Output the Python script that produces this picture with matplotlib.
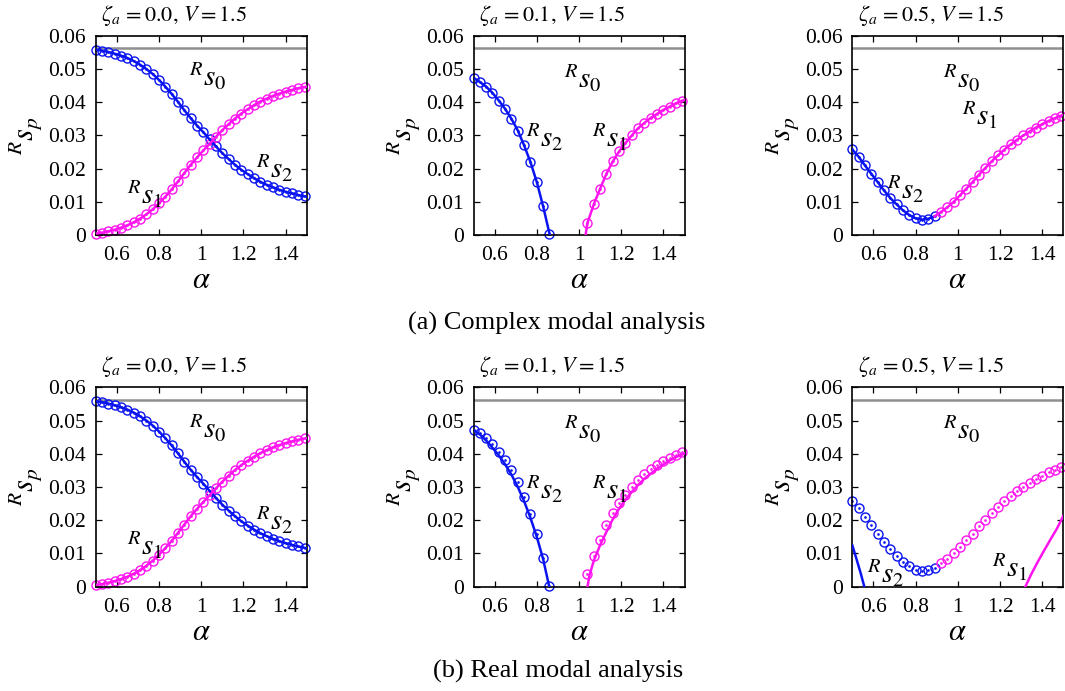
import matplotlib
matplotlib.use('Agg')
import matplotlib.pyplot as plt

plt.rcParams['font.family'] = ['Liberation Serif', 'DejaVu Serif']
plt.rcParams['mathtext.fontset'] = 'stix'

# ---------------- data ----------------
ALPHA = [0.50, 0.53, 0.56, 0.59, 0.62, 0.65, 0.68, 0.71, 0.74, 0.77,
         0.80, 0.83, 0.86, 0.89, 0.92, 0.95, 0.98, 1.01, 1.04, 1.07,
         1.10, 1.13, 1.16, 1.19, 1.22, 1.25, 1.28, 1.31, 1.34, 1.37,
         1.40, 1.43, 1.46, 1.49]

GRAY_LEVEL = 0.0563  # R s0

# zeta_a = 0.0 (circles; complex and real lines coincide)
Z00_BLUE = [0.0558, 0.0555, 0.0551, 0.0546, 0.0540, 0.0533, 0.0524, 0.0513, 0.0500, 0.0485,
            0.0467, 0.0447, 0.0425, 0.0401, 0.0376, 0.0352, 0.0330, 0.0310, 0.0288, 0.0267,
            0.0247, 0.0229, 0.0212, 0.0197, 0.0184, 0.0172, 0.0161, 0.0152, 0.0144, 0.0137,
            0.0131, 0.0126, 0.0121, 0.0117]
Z00_MAG = [0.0005, 0.0008, 0.0012, 0.0017, 0.0023, 0.0030, 0.0039, 0.0050, 0.0063, 0.0078,
           0.0096, 0.0116, 0.0138, 0.0162, 0.0187, 0.0212, 0.0234, 0.0255, 0.0275, 0.0296,
           0.0316, 0.0334, 0.0351, 0.0366, 0.0379, 0.0391, 0.0402, 0.0411, 0.0419, 0.0426,
           0.0432, 0.0437, 0.0442, 0.0446]
Z00_LINE_A = ALPHA + [1.50]
Z00_BLUE_LINE = Z00_BLUE + [0.0116]
Z00_MAG_LINE = Z00_MAG + [0.0447]

# zeta_a = 0.1 circles
Z01_BLUE_A = ALPHA[:13]
Z01_BLUE = [0.0473, 0.0461, 0.0447, 0.0428, 0.0405, 0.0380, 0.0350, 0.0315, 0.0270, 0.0220,
            0.0160, 0.0087, 0.0003]
Z01_MAG_A = ALPHA[18:]
Z01_MAG = [0.0037, 0.0093, 0.0140, 0.0185, 0.0222, 0.0252, 0.0277, 0.0300, 0.0322, 0.0338,
           0.0353, 0.0365, 0.0377, 0.0387, 0.0397, 0.0405]
# complex-analysis lines, zeta_a = 0.1
Z01C_BLUE_LA = Z01_BLUE_A[:-1] + [0.862]
Z01C_BLUE_L = Z01_BLUE[:-1] + [0.0]
Z01C_MAG_LA = [1.031] + Z01_MAG_A + [1.50]
Z01C_MAG_L = [0.0] + Z01_MAG + [0.0407]
# real-analysis lines, zeta_a = 0.1
Z01R_BLUE_LA = [0.50, 0.53, 0.56, 0.59, 0.62, 0.65, 0.68, 0.71, 0.74, 0.77, 0.80, 0.83, 0.859]
Z01R_BLUE_L = [0.0472, 0.0458, 0.0440, 0.0418, 0.0395, 0.0368, 0.0337, 0.0300, 0.0257, 0.0207,
               0.0150, 0.0083, 0.0]
Z01R_MAG_LA = [1.040, 1.050, 1.07, 1.10, 1.13, 1.16, 1.19, 1.22, 1.25, 1.28, 1.31, 1.34, 1.37,
               1.40, 1.43, 1.46, 1.49, 1.50]
Z01R_MAG_L = [0.0, 0.0035, 0.0078, 0.0125, 0.0165, 0.0203, 0.0235, 0.0262, 0.0285, 0.0306,
              0.0325, 0.0340, 0.0355, 0.0368, 0.0380, 0.0390, 0.0398, 0.0401]

# zeta_a = 0.5 circles
Z05_BLUE_A = ALPHA[:14]
Z05_BLUE = [0.0258, 0.0236, 0.0210, 0.0185, 0.0160, 0.0135, 0.0112, 0.0093, 0.0075, 0.0061,
            0.0051, 0.0047, 0.0050, 0.0057]
Z05_MAG_A = ALPHA[14:]
Z05_MAG = [0.0070, 0.0084, 0.0100, 0.0120, 0.0140, 0.0160, 0.0182, 0.0202, 0.0222, 0.0240,
           0.0257, 0.0273, 0.0287, 0.0300, 0.0312, 0.0324, 0.0334, 0.0344, 0.0352, 0.0360]
# complex-analysis lines, zeta_a = 0.5
Z05C_BLUE_LA = Z05_BLUE_A
Z05C_BLUE_L = Z05_BLUE
Z05C_MAG_LA = [0.89] + Z05_MAG_A + [1.50]
Z05C_MAG_L = [0.0057] + Z05_MAG + [0.0362]
# real-analysis lines, zeta_a = 0.5
Z05R_BLUE_LA = [0.50, 0.52, 0.54, 0.557]
Z05R_BLUE_L = [0.0125, 0.0083, 0.0040, 0.0]
Z05R_MAG_LA = [1.32, 1.35, 1.38, 1.41, 1.44, 1.47, 1.50]
Z05R_MAG_L = [0.0, 0.0040, 0.0076, 0.0110, 0.0143, 0.0175, 0.0213]

YTICKS = [0, 0.01, 0.02, 0.03, 0.04, 0.05, 0.06]
YTICK_LABELS = ['0', '0.01', '0.02', '0.03', '0.04', '0.05', '0.06']
XTICKS = [0.6, 0.8, 1.0, 1.2, 1.4]
XTICK_LABELS = ['0.6', '0.8', '1', '1.2', '1.4']

TITLES = [r'$\zeta_a\,=0.0,\,V=1.5$', r'$\zeta_a\,=0.1,\,V=1.5$', r'$\zeta_a\,=0.5,\,V=1.5$']
CAPTIONS = ['(a) Complex modal analysis', '(b) Real modal analysis']

BLUE = '#0a14f0'
MAG = '#ff14f0'
GRAY = '#8f8f8f'

panels = [
    # row 0: complex
    dict(circ=[(ALPHA, Z00_BLUE, BLUE), (ALPHA, Z00_MAG, MAG)],
         lines=[(Z00_LINE_A, Z00_BLUE_LINE, BLUE), (Z00_LINE_A, Z00_MAG_LINE, MAG)],
         labels=[(0.944, 0.0447, '0'), (0.647, 0.0094, '1'), (1.26, 0.0171, '2')]),
    dict(circ=[(Z01_BLUE_A, Z01_BLUE, BLUE), (Z01_MAG_A, Z01_MAG, MAG)],
         lines=[(Z01C_BLUE_LA, Z01C_BLUE_L, BLUE), (Z01C_MAG_LA, Z01C_MAG_L, MAG)],
         labels=[(0.927, 0.0443, '0'), (1.061, 0.0265, '1'), (0.75, 0.0265, '2')]),
    dict(circ=[(Z05_BLUE_A, Z05_BLUE, BLUE), (Z05_MAG_A, Z05_MAG, MAG)],
         lines=[(Z05C_BLUE_LA, Z05C_BLUE_L, BLUE), (Z05C_MAG_LA, Z05C_MAG_L, MAG)],
         labels=[(0.928, 0.0443, '0'), (1.018, 0.033, '1'), (0.663, 0.011, '2')]),
    # row 1: real
    dict(circ=[(ALPHA, Z00_BLUE, BLUE), (ALPHA, Z00_MAG, MAG)],
         lines=[(Z00_LINE_A, Z00_BLUE_LINE, BLUE), (Z00_LINE_A, Z00_MAG_LINE, MAG)],
         labels=[(0.944, 0.0447, '0'), (0.647, 0.0094, '1'), (1.26, 0.0171, '2')]),
    dict(circ=[(Z01_BLUE_A, Z01_BLUE, BLUE), (Z01_MAG_A, Z01_MAG, MAG)],
         lines=[(Z01R_BLUE_LA, Z01R_BLUE_L, BLUE), (Z01R_MAG_LA, Z01R_MAG_L, MAG)],
         labels=[(0.927, 0.0443, '0'), (1.061, 0.0265, '1'), (0.75, 0.0265, '2')]),
    dict(circ=[(Z05_BLUE_A, Z05_BLUE, BLUE), (Z05_MAG_A, Z05_MAG, MAG)],
         lines=[(Z05R_BLUE_LA, Z05R_BLUE_L, BLUE), (Z05R_MAG_LA, Z05R_MAG_L, MAG)],
         labels=[(0.928, 0.0443, '0'), (1.16, 0.003, '1'), (0.568, 0.001, '2')]),
]

W, H = 1065, 691
fig = plt.figure(figsize=(W / 100, H / 100), dpi=100)

lefts_px = [95.7, 473.5, 852.3]
rows_px = [(35.7, 235.3), (387.3, 586.7)]
ax_w_px = 211.0

for i, p in enumerate(panels):
    r, c = divmod(i, 3)
    top, bot = rows_px[r]
    ax = fig.add_axes([lefts_px[c] / W, 1 - bot / H, ax_w_px / W, (bot - top) / H])
    ax.axhline(GRAY_LEVEL, color=GRAY, lw=1.8, zorder=1)
    for (a, v, col) in p['circ']:
        ax.plot(a, v, 'o', mfc='none', mec=col, ms=6.5, mew=1.0, zorder=2, clip_on=False)
        ax.plot(a, v, '.', color=col, ms=1.8, zorder=2, clip_on=False)
    for (a, v, col) in p['lines']:
        ax.plot(a, v, '-', color=col, lw=1.8, zorder=3)
    for (x, y, sub) in p['labels']:
        ax.text(x, y, r'${}^{R}s_{%s}$' % sub, fontsize=21, ha='left', va='baseline')
    ax.set_xlim(0.5, 1.5)
    ax.set_ylim(0, 0.06)
    ax.set_xticks(XTICKS)
    ax.set_xticklabels(XTICK_LABELS)
    ax.set_yticks(YTICKS)
    ax.set_yticklabels(YTICK_LABELS)
    ax.tick_params(direction='in', top=True, right=True, length=4, width=0.9,
                   labelsize=15.5)
    ax.tick_params(axis='x', pad=8)
    ax.tick_params(axis='y', pad=7)
    for s in ax.spines.values():
        s.set_linewidth(1.2)
    ax.set_xlabel(r'$\alpha$', fontsize=22)
    ax.xaxis.set_label_coords(0.5, -0.155)
    ax.set_ylabel(r'${}^{R}s_p$', fontsize=22)
    ax.yaxis.set_label_coords(-0.245, 0.5)
    ax.text(0.372, 1.075, TITLES[c], transform=ax.transAxes, fontsize=16,
            ha='center', va='baseline')

fig.text(557 / W, 1 - 330 / H, CAPTIONS[0], fontsize=19, ha='center', va='baseline')
fig.text(558 / W, 1 - 678 / H, CAPTIONS[1], fontsize=19, ha='center', va='baseline')

fig.savefig('out.png', dpi=100)
